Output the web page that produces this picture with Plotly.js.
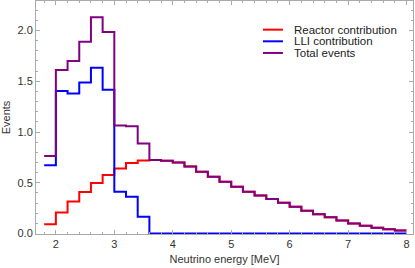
<!DOCTYPE html>
<html>
<head>
<meta charset="utf-8">
<script src="https://cdn.plot.ly/plotly-3.0.1.min.js"></script>
<style>html,body{margin:0;padding:0;background:#fff;}#chart{width:415px;height:268px;}</style>
</head>
<body>
<div id="chart"></div>
<script>
// Bin edges (MeV), 0.2 MeV bins from 1.8 to 8.0
const edges = [1.8,2.0,2.2,2.4,2.6,2.8,3.0,3.2,3.4,3.6,3.8,4.0,4.2,4.4,4.6,4.8,5.0,5.2,5.4,5.6,5.8,6.0,6.2,6.4,6.6,6.8,7.0,7.2,7.4,7.6,7.8,8.0];
// Events per bin
const reactor = [0.091,0.207,0.316,0.41,0.498,0.576,0.641,0.694,0.72,0.725,0.717,0.70,0.66,0.61,0.559,0.51,0.462,0.412,0.375,0.34,0.304,0.265,0.225,0.19,0.16,0.13,0.10,0.077,0.058,0.042,0.031];
const lli = [0.673,1.405,1.38,1.487,1.634,1.415,0.412,0.363,0.167,0,0,0,0,0,0,0,0,0,0,0,0,0,0,0,0,0,0,0,0,0,0];
const total = [0.765,1.61,1.70,1.89,2.13,1.985,1.065,1.058,0.886,0.725,0.717,0.70,0.66,0.61,0.559,0.51,0.462,0.412,0.375,0.34,0.304,0.265,0.225,0.19,0.16,0.13,0.10,0.077,0.058,0.042,0.031];
const names = ['Reactor contribution','LLI contribution','Total events'];
const colors = ['#ff0000','#0000ff','#800080'];

function stepY(v){ return v.concat([v[v.length-1]]); }

const series = [reactor, lli, total];
const traces = series.map((s,i)=>({
  type:'scatter', mode:'lines', x: edges, y: stepY(s),
  name: names[i], line:{shape:'hv', color: colors[i], width:2},
  hoverinfo:'skip', showlegend:false
}));

// Compact legend drawn as shapes + annotations (paper coordinates)
const legX0 = 0.602, legX1 = 0.655, legTextX = 0.679;
const legY = [0.877, 0.827, 0.777];
const shapes = names.map((n,i)=>({
  type:'line', xref:'paper', yref:'paper', x0:legX0, x1:legX1, y0:legY[i], y1:legY[i],
  line:{color:colors[i], width:2}
}));
const annotations = names.map((n,i)=>({
  xref:'paper', yref:'paper', x:legTextX, y:legY[i], xanchor:'left', yanchor:'middle',
  text:n, showarrow:false,
  font:{family:'Liberation Sans, Arial, sans-serif', size:11.5, color:'#222'}
}));

const axisCommon = {
  showline:true, linecolor:'#aaaaaa', linewidth:1, mirror:'allticks',
  ticks:'inside', ticklen:4, tickcolor:'#aaaaaa', tickwidth:1,
  showgrid:false, zeroline:false,
  tickfont:{family:'Liberation Sans, Arial, sans-serif', size:11, color:'#333'}
};

const layout = {
  width:415, height:268,
  margin:{l:36, r:2, t:1, b:34},
  paper_bgcolor:'#fff', plot_bgcolor:'#fff',
  font:{family:'Liberation Sans, Arial, sans-serif', size:11, color:'#333'},
  showlegend:false,
  shapes: shapes,
  annotations: annotations,
  xaxis: Object.assign({}, axisCommon, {
    range:[1.66, 8.11], tickvals:[2,3,4,5,6,7,8],
    minor:{dtick:0.2, tick0:0, ticks:'inside', ticklen:2, tickcolor:'#aaaaaa'},
    title:{text:'Neutrino energy [MeV]', font:{size:11, color:'#333'}, standoff:6}
  }),
  yaxis: Object.assign({}, axisCommon, {
    range:[-0.004, 2.29], tickvals:[0,0.5,1,1.5,2], ticktext:['0.0','0.5','1.0','1.5','2.0'],
    minor:{dtick:0.1, tick0:0, ticks:'inside', ticklen:2, tickcolor:'#aaaaaa'},
    title:{text:'Events', font:{size:11, color:'#333'}, standoff:4}
  })
};

Plotly.newPlot('chart', traces, layout, {displayModeBar:false, staticPlot:true});
</script>
</body>
</html>
